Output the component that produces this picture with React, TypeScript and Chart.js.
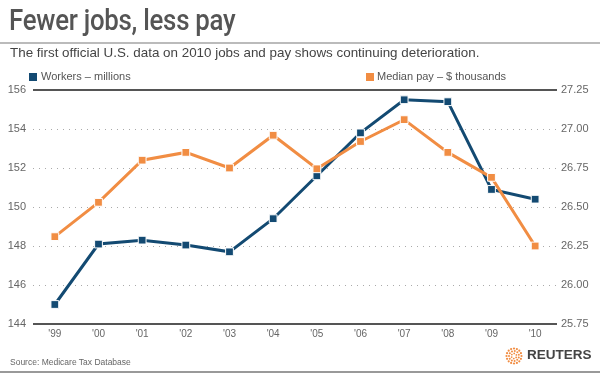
import React, { useEffect, useRef } from "react";
import { Chart, registerables } from "chart.js";

Chart.register(...registerables);

const years = ["'99", "'00", "'01", "'02", "'03", "'04", "'05", "'06", "'07", "'08", "'09", "'10"];
const workers = [145.0, 148.1, 148.3, 148.05, 147.7, 149.4, 151.6, 153.8, 155.5, 155.4, 150.9, 150.4];
const medianPay = [26.31, 26.53, 26.8, 26.85, 26.75, 26.96, 26.745, 26.92, 27.06, 26.85, 26.69, 26.25];
const leftTicks = [144, 146, 148, 150, 152, 154, 156];
const rightTicks = [25.75, 26.0, 26.25, 26.5, 26.75, 27.0, 27.25];

const BLUE = "#134a72";
const ORANGE = "#f18d43";

const gridPlugin = {
  id: "customGrid",
  beforeDatasetsDraw(chart: any) {
    const { ctx, chartArea } = chart;
    const s = chart.scales.y;
    ctx.save();
    s.ticks.forEach((t: any, i: number) => {
      const y = Math.round(s.getPixelForValue(t.value));
      ctx.beginPath();
      if (i === 0 || i === s.ticks.length - 1) {
        ctx.setLineDash([]);
        ctx.strokeStyle = "#555";
        ctx.lineWidth = 2;
        ctx.moveTo(chartArea.left, y);
        ctx.lineTo(chartArea.right, y);
      } else {
        ctx.setLineDash([1, 5]);
        ctx.strokeStyle = "#aaa";
        ctx.lineWidth = 1;
        ctx.moveTo(chartArea.left, y + 0.5);
        ctx.lineTo(chartArea.right, y + 0.5);
      }
      ctx.stroke();
    });
    ctx.restore();
  },
};

function Logo() {
  const dots: JSX.Element[] = [];
  const rings = [
    { r: 7.5, n: 16, s: 1.1 },
    { r: 5, n: 11, s: 1.0 },
    { r: 2.6, n: 6, s: 0.9 },
  ];
  rings.forEach((rg, ri) => {
    for (let k = 0; k < rg.n; k++) {
      const a = (k / rg.n) * Math.PI * 2 + ri * 0.3;
      dots.push(
        <circle key={ri + "-" + k} cx={9 + rg.r * Math.cos(a)} cy={9 + rg.r * Math.sin(a)} r={rg.s} fill={ORANGE} />
      );
    }
  });
  return (
    <svg width="18" height="18" style={{ position: "absolute", left: 505, top: 347 }}>
      {dots}
    </svg>
  );
}

export default function App() {
  const ref = useRef<HTMLCanvasElement | null>(null);
  useEffect(() => {
    if (!ref.current) return;
    const chart = new Chart(ref.current, {
      type: "line",
      data: {
        labels: years,
        datasets: [
          {
            label: "Median pay – $ thousands",
            data: medianPay,
            yAxisID: "y1",
            borderColor: ORANGE,
            backgroundColor: ORANGE,
            borderWidth: 3,
            tension: 0,
            pointStyle: "rect",
            pointRadius: 5.5,
            pointBorderColor: "#fff",
            pointBorderWidth: 1,
            order: 0,
          },
          {
            label: "Workers – millions",
            data: workers,
            yAxisID: "y",
            borderColor: BLUE,
            backgroundColor: BLUE,
            borderWidth: 3,
            tension: 0,
            pointStyle: "rect",
            pointRadius: 5.5,
            pointBorderColor: "#fff",
            pointBorderWidth: 1,
            order: 1,
          },
        ],
      },
      options: {
        responsive: false,
        animation: false,
        layout: { padding: { top: 90, left: 0, right: 0, bottom: 0 } },
        plugins: { legend: { display: false }, tooltip: { enabled: false } },
        scales: {
          x: {
            offset: true,
            grid: { display: false, drawTicks: false, tickLength: 0 },
            border: { display: false },
            ticks: { color: "#666", font: { family: "Liberation Sans", size: 10 }, padding: 4, maxRotation: 0, autoSkip: false },
            afterFit(s: any) { s.height = 51; },
          },
          y: {
            position: "left",
            min: 144,
            max: 156,
            afterBuildTicks(s: any) { s.ticks = leftTicks.map((v) => ({ value: v })); },
            grid: { display: false, drawTicks: false, tickLength: 0 },
            border: { display: false },
            ticks: { color: "#666", font: { family: "Liberation Sans", size: 11 }, padding: 7 },
            afterFit(s: any) { s.width = 33; },
          },
          y1: {
            position: "right",
            min: 25.75,
            max: 27.25,
            afterBuildTicks(s: any) { s.ticks = rightTicks.map((v) => ({ value: v })); },
            grid: { display: false, drawTicks: false, tickLength: 0 },
            border: { display: false },
            ticks: {
              color: "#666",
              font: { family: "Liberation Sans", size: 11 },
              padding: 4,
              callback: (v: any) => Number(v).toFixed(2),
            },
            afterFit(s: any) { s.width = 43; },
          },
        },
      },
      plugins: [gridPlugin],
    });
    return () => chart.destroy();
  }, []);

  const abs = (o: React.CSSProperties): React.CSSProperties => ({ position: "absolute", whiteSpace: "nowrap", ...o });

  return (
    <div style={{ position: "fixed", left: 0, top: 0, width: 600, height: 375, background: "#fff", fontFamily: "'Liberation Sans', Arial, sans-serif", overflow: "hidden" }}>
      <canvas ref={ref} width={600} height={375} style={{ position: "absolute", left: 0, top: 0 }} />
      <div style={abs({ left: 9, top: 2, fontFamily: "Roboto", fontWeight: 500, fontSize: 30, color: "#555", letterSpacing: -0.3, transform: "scaleX(0.86)", transformOrigin: "left top" })}>Fewer jobs, less pay</div>
      <div style={abs({ left: 0, top: 42, width: 600, height: 2, background: "#bbb" })} />
      <div style={abs({ left: 10, top: 45, fontSize: 13.4, color: "#444" })}>The first official U.S. data on 2010 jobs and pay shows continuing deterioration.</div>
      <div style={abs({ left: 29, top: 73, width: 8, height: 8, background: BLUE })} />
      <div style={abs({ left: 41, top: 70, fontSize: 11, color: "#555" })}>Workers – millions</div>
      <div style={abs({ left: 366, top: 73, width: 8, height: 8, background: ORANGE })} />
      <div style={abs({ left: 377, top: 70, fontSize: 11, color: "#555" })}>Median pay – $ thousands</div>
      <div style={abs({ left: 10, top: 357, fontSize: 8.5, color: "#666" })}>Source: Medicare Tax Database</div>
      <Logo />
      <div style={abs({ left: 527, top: 347, fontSize: 13.5, fontWeight: "bold", color: "#444" })}>REUTERS</div>
      <div style={abs({ left: 0, top: 371, width: 600, height: 2, background: "#999" })} />
    </div>
  );
}
